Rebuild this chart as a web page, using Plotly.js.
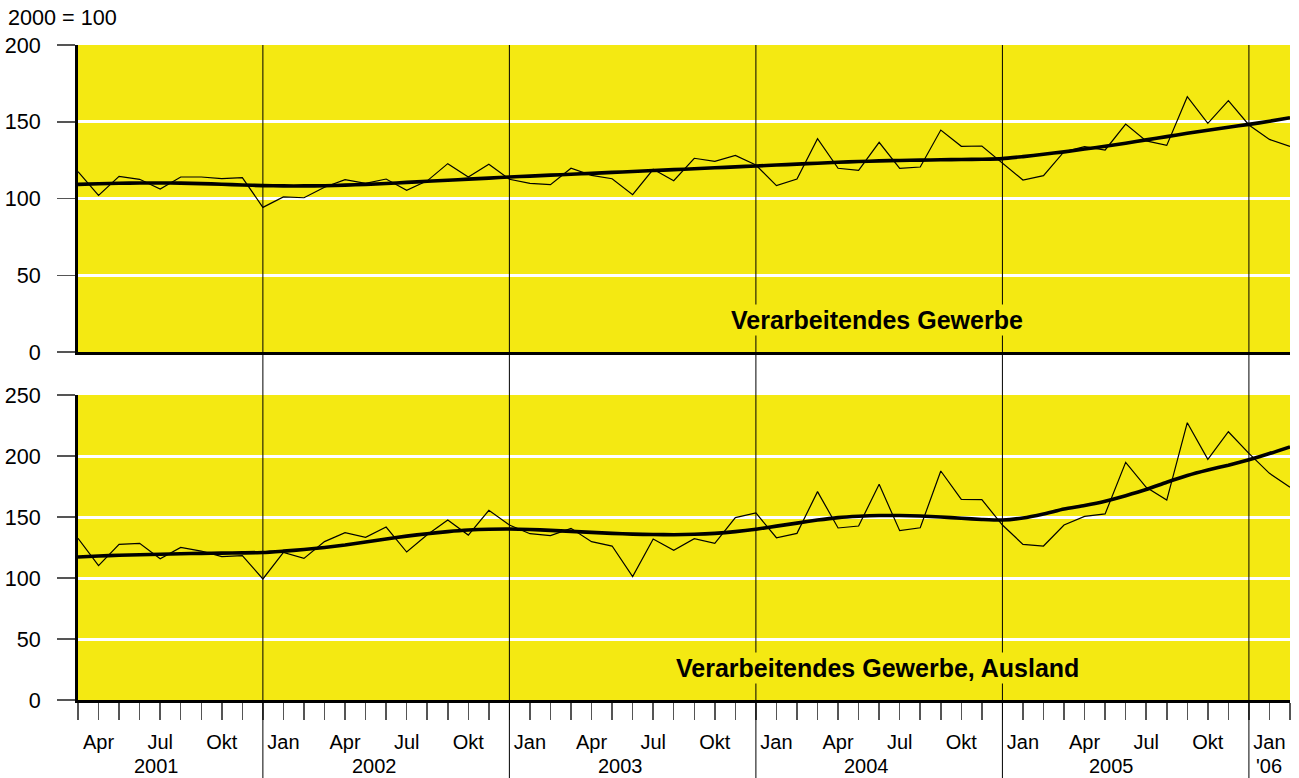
<!DOCTYPE html>
<html>
<head>
<meta charset="utf-8">
<script src="https://cdn.plot.ly/plotly-3.0.1.min.js"></script>
<style>
  html, body { margin: 0; padding: 0; background: #ffffff; }
  #chart { width: 1299px; height: 778px; }
</style>
</head>
<body>
<div id="chart"></div>
<script>
// Months: March 2001 ... February 2006 (60 monthly observations)
const monthCycle = ["Jan", "", "", "Apr", "", "", "Jul", "", "", "Okt", "", ""];
const firstMonth = 2; // March 2001
const nMonths = 60;

// Verarbeitendes Gewerbe (2000 = 100) - monthly values
const gesamtRaw = [
  117.5, 102.0, 114.4, 112.5, 106.2, 114.0, 114.0, 112.9, 113.6, 94.2,
  101.0, 100.5, 107.3, 112.3, 109.9, 112.7, 105.3, 111.5, 122.7, 114.0,
  122.3, 112.5, 109.9, 109.0, 119.7, 115.1, 112.9, 102.5, 119.0, 111.6,
  126.2, 124.2, 128.1, 121.8, 108.4, 112.7, 139.0, 119.7, 118.4, 136.6,
  119.7, 120.5, 144.6, 134.0, 134.2, 122.9, 112.0, 114.9, 130.5, 133.8,
  131.6, 148.5, 137.5, 134.6, 166.3, 149.0, 163.7, 147.9, 138.5, 134.0
];
// Verarbeitendes Gewerbe - trend
const gesamtTrend = [
  109.2, 109.6, 109.9, 110.1, 110.1, 110.0, 109.7, 109.3, 108.8, 108.4,
  108.2, 108.2, 108.3, 108.7, 109.2, 109.8, 110.5, 111.2, 111.9, 112.6,
  113.3, 114.0, 114.6, 115.2, 115.8, 116.4, 117.0, 117.6, 118.2, 118.8,
  119.4, 120.0, 120.6, 121.2, 121.8, 122.4, 123.0, 123.6, 124.1, 124.5,
  124.8, 125.0, 125.2, 125.4, 125.6, 126.0, 127.3, 128.8, 130.4, 132.2,
  134.0, 136.0, 138.2, 140.3, 142.5, 144.5, 146.4, 148.3, 150.3, 152.6
];
// Verarbeitendes Gewerbe, Ausland - monthly values
const auslandRaw = [
  132.5, 110.1, 127.6, 128.4, 115.8, 125.1, 122.1, 117.5, 118.3, 99.2,
  121.0, 116.1, 129.8, 137.2, 133.3, 141.8, 121.3, 135.5, 147.5, 135.2,
  155.5, 143.4, 136.3, 134.7, 140.7, 129.8, 126.2, 101.1, 132.0, 122.7,
  132.2, 128.4, 149.5, 153.3, 133.0, 136.6, 170.8, 141.0, 142.6, 176.8,
  138.8, 141.2, 187.7, 164.5, 164.2, 143.4, 127.6, 126.2, 143.4, 150.5,
  152.5, 194.8, 174.3, 163.9, 227.3, 197.3, 219.9, 202.2, 185.8, 174.3
];
// Verarbeitendes Gewerbe, Ausland - trend
const auslandTrend = [
  117.2, 118.0, 118.6, 119.1, 119.5, 119.9, 120.2, 120.4, 120.6, 120.9,
  122.0, 123.3, 125.0, 127.0, 129.5, 132.0, 134.3, 136.3, 138.0, 139.3,
  140.0, 140.2, 139.8, 139.0, 138.2, 137.4, 136.6, 136.0, 135.6, 135.5,
  135.8, 136.6, 138.0, 140.0, 142.5, 145.0, 147.5, 149.5, 150.6, 151.2,
  151.2, 150.8, 150.0, 149.0, 148.0, 147.5, 149.2, 152.5, 156.5, 159.5,
  163.0, 167.5, 172.5, 178.5, 184.0, 188.5, 192.5, 197.0, 202.0, 207.5
];

const yearLabels = ["2001", "2002", "2003", "2004", "2005", "'06"];
const panelTitles = ["Verarbeitendes Gewerbe", "Verarbeitendes Gewerbe, Ausland"];
const unitLabel = "2000 = 100";

// ---- derived (library inputs) ----
const xs = [];
const tickText = [];
for (let i = 0; i < nMonths; i++) {
  xs.push(i);
  tickText.push(monthCycle[(firstMonth + i) % 12]);
}
// index of each December (year boundaries)
const decIdx = [];
for (let i = 0; i < nMonths; i++) if ((firstMonth + i) % 12 === 11) decIdx.push(i);

const yearLabelX = [3.8, 14.45, 26.4, 38.4, 50.3, 58.0];

const FONT = "Liberation Sans, Arial, Helvetica, sans-serif";
const YELLOW = "#f4e912";

const thin = {color: "#000000", width: 1.2};
const thick = {color: "#000000", width: 3.6, shape: "spline", smoothing: 0.6};

const traces = [
  {x: xs, y: gesamtRaw, type: "scatter", mode: "lines", line: thin, xaxis: "x", yaxis: "y", hoverinfo: "skip"},
  {x: xs, y: gesamtTrend, type: "scatter", mode: "lines", line: thick, xaxis: "x", yaxis: "y", hoverinfo: "skip"},
  {x: xs, y: auslandRaw, type: "scatter", mode: "lines", line: thin, xaxis: "x2", yaxis: "y2", hoverinfo: "skip"},
  {x: xs, y: auslandTrend, type: "scatter", mode: "lines", line: thick, xaxis: "x2", yaxis: "y2", hoverinfo: "skip"}
];

const H = 778, mt = 45, mb = 78;
const plotH = H - mt - mb;
const pxToPaperY = p => (H - mb - p) / plotH;

const yCommon = {
  ticks: "outside", ticklen: 18, tickcolor: "#555555", tickwidth: 1.5,
  showline: true, linecolor: "#000000", linewidth: 3,
  showgrid: true, gridcolor: "#ffffff", gridwidth: 3,
  zeroline: false, dtick: 50,
  tickfont: {family: FONT, size: 21.6, color: "#000000"},
  ticklabelstandoff: 12, fixedrange: true
};

const shapes = decIdx.map(d => ({
  type: "line", xref: "x2", yref: "paper",
  x0: d, x1: d, y0: pxToPaperY(778), y1: 1,
  line: {color: "#000000", width: 1}, layer: "above"
}));

const annotations = [
  {text: unitLabel, xref: "paper", yref: "paper", x: -72 / 1212, y: pxToPaperY(18),
   xanchor: "left", yanchor: "middle", showarrow: false,
   font: {family: FONT, size: 21.6, color: "#000000"}},
  {text: "<b>" + panelTitles[0] + "</b>", xref: "x", yref: "y", x: 38.9, y: 20.8,
   xanchor: "center", yanchor: "middle", showarrow: false, bgcolor: YELLOW,
   font: {family: FONT, size: 25, color: "#000000"}},
  {text: "<b>" + panelTitles[1] + "</b>", xref: "x2", yref: "y2", x: 38.9, y: 26.2,
   xanchor: "center", yanchor: "middle", showarrow: false, bgcolor: YELLOW,
   font: {family: FONT, size: 25, color: "#000000"}}
];
yearLabels.forEach((t, k) => annotations.push({
  text: t, xref: "x2", yref: "paper", x: yearLabelX[k], y: pxToPaperY(766),
  xanchor: "center", yanchor: "middle", showarrow: false,
  font: {family: FONT, size: 20, color: "#000000"}
}));

const layout = {
  width: 1299, height: 778,
  margin: {l: 78, r: 9, t: mt, b: mb, pad: 0},
  paper_bgcolor: "#ffffff", plot_bgcolor: YELLOW,
  showlegend: false,
  font: {family: FONT, size: 20, color: "#000000"},
  xaxis: {
    domain: [0, 1], anchor: "y", range: [0, nMonths - 1],
    showticklabels: false, ticks: "", showgrid: false, zeroline: false,
    showline: true, linecolor: "#000000", linewidth: 3, fixedrange: true
  },
  xaxis2: {
    domain: [0, 1], anchor: "y2", range: [0, nMonths - 1], matches: "x",
    tickmode: "array", tickvals: xs, ticktext: tickText,
    ticks: "outside", ticklen: 17, tickcolor: "#555555", tickwidth: 1.5,
    tickfont: {family: FONT, size: 20, color: "#000000"}, tickangle: 0,
    ticklabelstandoff: 5,
    showgrid: false, zeroline: false,
    showline: true, linecolor: "#000000", linewidth: 3, fixedrange: true
  },
  yaxis: Object.assign({}, yCommon, {domain: [pxToPaperY(352), 1], anchor: "x", range: [0, 200]}),
  yaxis2: Object.assign({}, yCommon, {domain: [0, pxToPaperY(395)], anchor: "x2", range: [0, 250]}),
  shapes: shapes,
  annotations: annotations
};

Plotly.newPlot("chart", traces, layout, {displayModeBar: false, staticPlot: true});
</script>
</body>
</html>
